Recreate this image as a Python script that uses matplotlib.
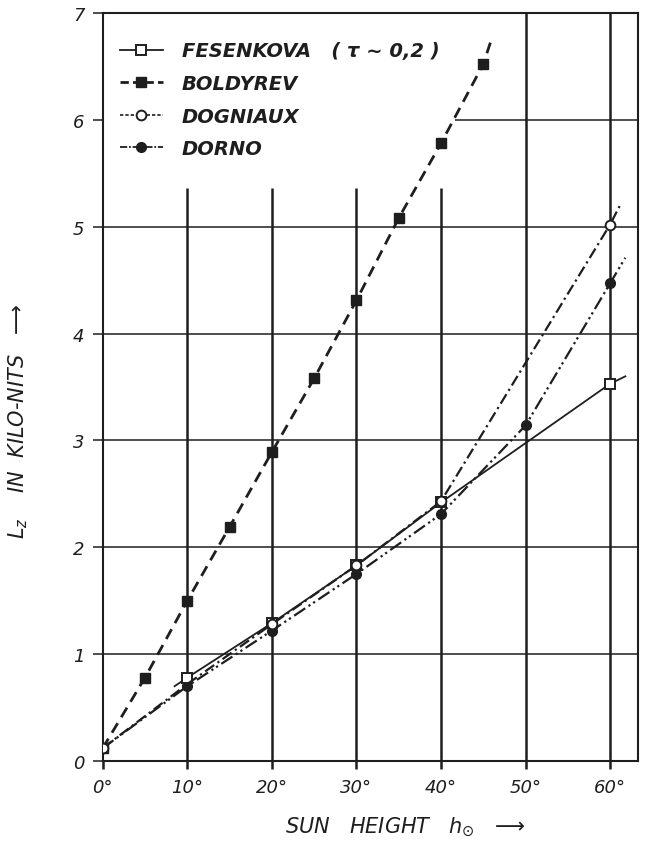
import numpy as np
import matplotlib
matplotlib.use("Agg")
import matplotlib.pyplot as plt
from matplotlib.lines import Line2D

# zenith luminance vs. sun height, four authors
fes_x = [8.5, 10, 20, 30, 40, 60, 61.8]
fes_y = [0.70, 0.78, 1.29, 1.83, 2.42, 3.53, 3.60]
fes_marks = [1, 2, 3, 4, 5]

bol_x = [0, 5, 10, 15, 20, 25, 30, 35, 40, 45, 46]
bol_y = [0.12, 0.78, 1.50, 2.19, 2.89, 3.58, 4.31, 5.08, 5.78, 6.52, 6.76]
bol_marks = list(range(10))

dog_x = [0, 10, 20, 30, 40, 60, 61.3]
dog_y = [0.12, 0.72, 1.28, 1.83, 2.43, 5.02, 5.22]
dog_marks = [0, 2, 3, 4, 5]

dor_x = [0, 10, 20, 30, 40, 50, 60, 61.8]
dor_y = [0.12, 0.70, 1.22, 1.75, 2.31, 3.14, 4.47, 4.71]
dor_marks = [0, 1, 2, 3, 4, 5, 6]

x_ticks = [0, 10, 20, 30, 40, 50, 60]
x_ticklabels = ["0°", "10°", "20°", "30°", "40°", "50°", "60°"]
y_ticks = [0, 1, 2, 3, 4, 5, 6, 7]

ink = "#1e1e1e"
font = dict(family="DejaVu Sans", style="oblique")

fig = plt.figure(figsize=(6.52, 8.45), dpi=100)
ax = fig.add_axes([0.1575, 0.0982, 0.8210, 0.8852])
ax.set_xlim(0, 63.3)
ax.set_ylim(0, 7)

# grid: the legend corner is kept clear
ax.vlines([10, 20, 30, 40], 0, 5.36, color=ink, lw=1.8, zorder=1)
ax.vlines([50, 60], 0, 7, color=ink, lw=1.8, zorder=1)
ax.hlines([1, 2, 3, 4, 5], 0, 63.3, color=ink, lw=1.1, zorder=1)
ax.hlines([6], 41.7, 63.3, color=ink, lw=1.1, zorder=1)

for s in ax.spines.values():
    s.set_linewidth(1.5)
    s.set_color(ink)

l_fes, = ax.plot(fes_x, fes_y, color=ink, lw=1.3, ls="-",
                 marker="s", ms=7, mfc="white", mec=ink, mew=1.4,
                 markevery=fes_marks, zorder=4)
l_bol, = ax.plot(bol_x, bol_y, color=ink, lw=2.0, ls=(0, (4, 2.5)),
                 marker="s", ms=7.5, mfc=ink, mec=ink,
                 markevery=bol_marks, zorder=4)
l_dog, = ax.plot(dog_x, dog_y, color=ink, lw=1.6, ls=(0, (5, 1.8, 1, 1.8)),
                 marker="o", ms=7, mfc="white", mec=ink, mew=1.4,
                 markevery=dog_marks, zorder=5)
l_dor, = ax.plot(dor_x, dor_y, color=ink, lw=1.6, ls=(0, (6, 1.8, 1, 1.5, 1, 1.8)),
                 marker="o", ms=7, mfc=ink, mec=ink,
                 markevery=dor_marks, zorder=3)

h_fes = Line2D([], [], color=ink, lw=1.3, marker="s", ms=7, mfc="white", mec=ink, mew=1.4)
h_bol = Line2D([], [], color=ink, lw=2.0, ls=(0, (3, 1.5)), marker="s", ms=7.5, mfc=ink, mec=ink)
h_dog = Line2D([], [], color=ink, lw=1.2, ls=(0, (2, 1.2)), marker="o", ms=7, mfc="white", mec=ink, mew=1.4)
h_dor = Line2D([], [], color=ink, lw=1.3, ls=(0, (4, 1, 1, 1)), marker="o", ms=7, mfc=ink, mec=ink)
leg = ax.legend([h_fes, h_bol, h_dog, h_dor],
                ["FESENKOVA   ( τ ∼ 0,2 )", "BOLDYREV", "DOGNIAUX", "DORNO"],
                loc="upper left", bbox_to_anchor=(0.032, 0.962),
                frameon=False, borderpad=0, borderaxespad=0,
                handlelength=2.2, handletextpad=1.0, labelspacing=0.7,
                prop=dict(family="DejaVu Sans", style="oblique", weight="bold", size=14))
for t in leg.get_texts():
    t.set_color(ink)

ax.set_xticks(x_ticks)
ax.set_xticklabels(x_ticklabels, fontdict=dict(size=13, **font))
ax.set_yticks(y_ticks)
ax.set_yticklabels([str(v) for v in y_ticks], fontdict=dict(size=13, **font))
ax.tick_params(axis="x", direction="out", length=6, width=1.8, pad=6, colors=ink)
ax.tick_params(axis="y", direction="out", length=7, width=1.1, pad=6, colors=ink)

ax.set_xlabel(r"SUN   HEIGHT   $h_{\odot}$   ⟶", size=15, color=ink, **font)
ax.xaxis.set_label_coords(0.565, -0.072)
ax.set_ylabel(r"$L_z$    IN  KILO-NITS   ⟶", size=15, color=ink, **font)
ax.yaxis.set_label_coords(-0.135, 0.455)

fig.savefig("out.png", dpi=100, facecolor="white")
